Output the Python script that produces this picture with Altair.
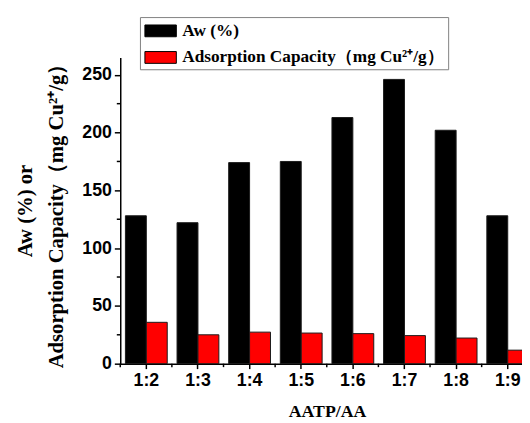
import altair as alt
import pandas as pd

categories = ["1:2", "1:3", "1:4", "1:5", "1:6", "1:7", "1:8", "1:9"]
aw = [128, 122, 174, 175, 213, 246, 202, 128]
adsorption = [35.8, 25.0, 27.3, 26.5, 26.0, 24.3, 22.2, 11.7]
series = ["Aw (%)", "Adsorption Capacity（mg Cu²⁺/g）"]
colors = ["#000000", "#ff0000"]
y_ticks = [0, 50, 100, 150, 200, 250]
y_minor = [25, 75, 125, 175, 225]

rows = []
for c, a, b in zip(categories, aw, adsorption):
    rows.append({"ratio": c, "series": series[0], "value": a})
    rows.append({"ratio": c, "series": series[1], "value": b})
df = pd.DataFrame(rows)

ydom = [0, 265]
W = 408
H = 311
serif = "Liberation Serif"
sans = "Liberation Sans"

yaxis = alt.Axis(
    values=y_ticks, grid=False,
    title=["Aw (%) or", "Adsorption Capacity（mg Cu²⁺/g）"],
    labelFont=sans, labelFontWeight="bold", labelFontSize=18, labelColor="black",
    titleFont=serif, titleFontWeight="bold", titleFontSize=21, titleColor="black",
    titleLineHeight=31,
    tickSize=6, tickColor="black", tickWidth=1.5,
    domainColor="black", domainWidth=1.5, labelPadding=3, titlePadding=16,
)
xaxis = alt.Axis(
    title="AATP/AA", labelAngle=0,
    labelFont=sans, labelFontWeight="bold", labelFontSize=18, labelColor="black",
    titleFont=serif, titleFontWeight="bold", titleFontSize=18, titleColor="black",
    tickSize=5, tickColor="black", tickWidth=1.5,
    domainColor="black", domainWidth=1.5, labelPadding=3, titlePadding=14,
)
xscale = alt.Scale(range=[0, 420], paddingInner=0.19, paddingOuter=0.1)

bars = alt.Chart(df).mark_bar(stroke="#1a1a1a", strokeWidth=1).encode(
    x=alt.X("ratio:N", sort=categories, scale=xscale, axis=xaxis),
    xOffset=alt.XOffset("series:N", sort=series, scale=alt.Scale(paddingInner=0, paddingOuter=0)),
    y=alt.Y("value:Q", scale=alt.Scale(domain=ydom, nice=False), axis=yaxis),
    color=alt.Color(
        "series:N", sort=series,
        scale=alt.Scale(domain=series, range=colors),
        legend=alt.Legend(
            title=None, orient="none", legendX=20, legendY=-41,
            strokeColor="#808080", fillColor="white", padding=3,
            symbolType="M-1.52,-0.57H1.52V0.57H-1.52Z", symbolSize=441,
            symbolOffset=7,
            symbolStrokeColor="black", symbolStrokeWidth=1,
            labelFont=serif, labelFontWeight="bold", labelFontSize=17.5, labelColor="black",
            labelLimit=400, rowPadding=7, labelOffset=11,
        ),
    ),
)

# minor ticks on y axis (between labelled ticks)
yminor = alt.Chart(pd.DataFrame({"value": y_minor})).mark_rule(color="black", strokeWidth=1.5).encode(
    y=alt.Y("value:Q", scale=alt.Scale(domain=ydom, nice=False), axis=yaxis),
    x=alt.value(-3.5),
    x2=alt.value(0),
)

# minor ticks on x axis at group boundaries
xminor = alt.Chart(pd.DataFrame({"ratio": categories})).mark_rule(color="black", strokeWidth=1.5).encode(
    x=alt.X("ratio:N", sort=categories, scale=xscale, axis=xaxis, bandPosition=0),
    xOffset=alt.value(-5.25),
    y=alt.value(H),
    y2=alt.value(H + 3.5),
)

chart = alt.layer(bars, yminor, xminor).properties(
    width=W, height=H,
    autosize=alt.AutoSizeParams(type="none"),
    padding={"left": 114, "top": 47, "right": 0, "bottom": 56},
).configure_view(stroke=None)

chart.save("out.html", embed_options={"renderer": "svg", "actions": False})
